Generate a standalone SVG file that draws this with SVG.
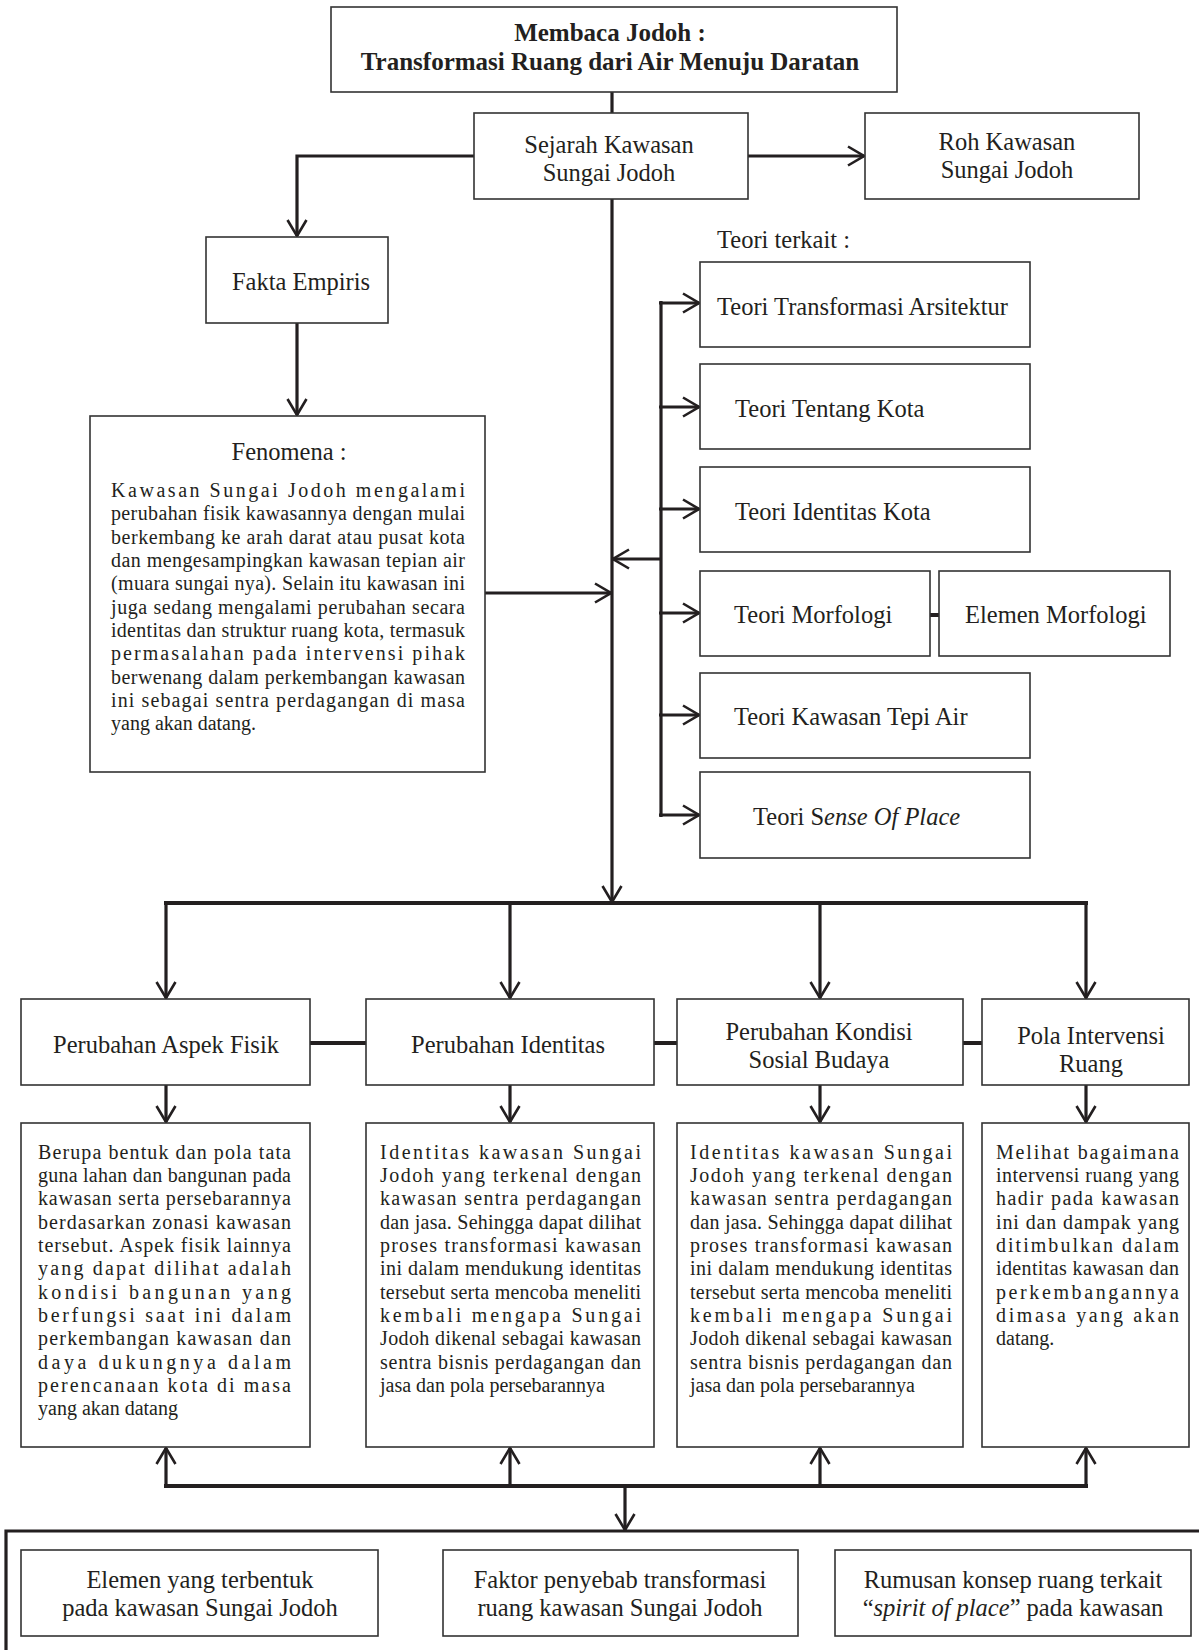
<svg xmlns="http://www.w3.org/2000/svg" width="1199" height="1650" viewBox="0 0 1199 1650">
<style>
.bx{fill:#fff;stroke:#333;stroke-width:1.6}
.t{font-family:"Liberation Serif","Times New Roman",serif;font-size:24.5px;fill:#231f20}
.tb{font-family:"Liberation Serif","Times New Roman",serif;font-size:25px;font-weight:bold;fill:#231f20}
.p{font-family:"Liberation Serif","Times New Roman",serif;font-size:20px;fill:#231f20}
.c{text-anchor:middle}
.ln{fill:none;stroke:#231f20;stroke-width:3.2}
.ar{fill:none;stroke:#231f20;stroke-width:3.2;marker-end:url(#ah)}
</style>
<defs>
<marker id="ah" markerUnits="userSpaceOnUse" viewBox="0 0 18 22" markerWidth="18" markerHeight="22" refX="17" refY="11" orient="auto">
<path d="M1,1.5 L17,11 L1,20.5" fill="none" stroke="#231f20" stroke-width="2.6"/>
</marker>
</defs>
<rect width="1199" height="1650" fill="#fff"/>

<g id="connectors">
<line class="ln" x1="612" y1="92" x2="612" y2="113"/>
<line class="ar" x1="748" y1="156" x2="864" y2="156"/>
<polyline class="ar" points="474,156 297,156 297,236"/>
<line class="ar" x1="297" y1="323" x2="297" y2="415"/>
<line class="ar" x1="612" y1="199" x2="612" y2="902"/>
<line class="ar" x1="485" y1="593" x2="611" y2="593"/>
<line class="ar" x1="661" y1="559" x2="613" y2="559"/>
<line class="ln" x1="661" y1="301" x2="661" y2="817"/>
<line class="ar" x1="659" y1="303" x2="699" y2="303"/>
<line class="ar" x1="659" y1="407" x2="699" y2="407"/>
<line class="ar" x1="659" y1="509" x2="699" y2="509"/>
<line class="ar" x1="659" y1="613" x2="699" y2="613"/>
<line class="ar" x1="659" y1="715" x2="699" y2="715"/>
<line class="ar" x1="659" y1="815" x2="699" y2="815"/>
<line class="ln" x1="930" y1="615" x2="939" y2="615" style="stroke-width:4"/>
<line class="ln" x1="164" y1="903" x2="1088" y2="903" style="stroke-width:4"/>
<line class="ar" x1="166" y1="903" x2="166" y2="998"/>
<line class="ar" x1="510" y1="903" x2="510" y2="998"/>
<line class="ar" x1="820" y1="903" x2="820" y2="998"/>
<line class="ar" x1="1086" y1="903" x2="1086" y2="998"/>
<line class="ln" x1="310" y1="1043" x2="366" y2="1043" style="stroke-width:4"/>
<line class="ln" x1="654" y1="1043" x2="677" y2="1043" style="stroke-width:4"/>
<line class="ln" x1="963" y1="1043" x2="982" y2="1043" style="stroke-width:4"/>
<line class="ar" x1="166" y1="1085" x2="166" y2="1122"/>
<line class="ar" x1="510" y1="1085" x2="510" y2="1122"/>
<line class="ar" x1="820" y1="1085" x2="820" y2="1122"/>
<line class="ar" x1="1086" y1="1085" x2="1086" y2="1122"/>
<line class="ln" x1="164" y1="1486" x2="1088" y2="1486" style="stroke-width:4"/>
<line class="ar" x1="166" y1="1486" x2="166" y2="1448"/>
<line class="ar" x1="510" y1="1486" x2="510" y2="1448"/>
<line class="ar" x1="820" y1="1486" x2="820" y2="1448"/>
<line class="ar" x1="1086" y1="1486" x2="1086" y2="1448"/>
<line class="ar" x1="625" y1="1486" x2="625" y2="1530"/>
<polyline class="ln" points="6,1650 6,1531 1199,1531"/>
</g>

<g id="title">
<rect class="bx" x="331" y="7" width="566" height="85"/>
<text class="tb c" x="610" y="41">Membaca Jodoh :</text>
<text class="tb c" x="610" y="70">Transformasi Ruang dari Air Menuju Daratan</text>
</g>
<g id="sejarah">
<rect class="bx" x="474" y="113" width="274" height="86"/>
<text class="t c" x="609" y="153">Sejarah Kawasan</text>
<text class="t c" x="609" y="181">Sungai Jodoh</text>
</g>
<g id="roh">
<rect class="bx" x="865" y="113" width="274" height="86"/>
<text class="t c" x="1007" y="150">Roh Kawasan</text>
<text class="t c" x="1007" y="178">Sungai Jodoh</text>
</g>
<g id="fakta">
<rect class="bx" x="206" y="237" width="182" height="86"/>
<text class="t c" x="301" y="290">Fakta Empiris</text>
</g>
<g id="fenomena">
<rect class="bx" x="90" y="416" width="395" height="356"/>
<text class="t c" x="289" y="460">Fenomena :</text>
<text class="p" x="111" y="497" textLength="354" lengthAdjust="spacing">Kawasan Sungai Jodoh mengalami</text>
<text class="p" x="111" y="520" textLength="354" lengthAdjust="spacing">perubahan fisik kawasannya dengan mulai</text>
<text class="p" x="111" y="544" textLength="354" lengthAdjust="spacing">berkembang ke arah darat atau pusat kota</text>
<text class="p" x="111" y="567" textLength="354" lengthAdjust="spacing">dan mengesampingkan kawasan tepian air</text>
<text class="p" x="111" y="590" textLength="354" lengthAdjust="spacing">(muara sungai nya). Selain itu kawasan ini</text>
<text class="p" x="111" y="614" textLength="354" lengthAdjust="spacing">juga sedang mengalami perubahan secara</text>
<text class="p" x="111" y="637" textLength="354" lengthAdjust="spacing">identitas dan struktur ruang kota, termasuk</text>
<text class="p" x="111" y="660" textLength="354" lengthAdjust="spacing">permasalahan pada intervensi pihak</text>
<text class="p" x="111" y="684" textLength="354" lengthAdjust="spacing">berwenang dalam perkembangan kawasan</text>
<text class="p" x="111" y="707" textLength="354" lengthAdjust="spacing">ini sebagai sentra perdagangan di masa</text>
<text class="p" x="111" y="730">yang akan datang.</text>
</g>

<text class="t" x="717" y="248">Teori terkait :</text>
<g id="teori-transformasi">
<rect class="bx" x="700" y="262" width="330" height="85"/>
<text class="t" x="717" y="315">Teori Transformasi Arsitektur</text>
</g>
<g id="teori-kota">
<rect class="bx" x="700" y="364" width="330" height="85"/>
<text class="t" x="735" y="417">Teori Tentang Kota</text>
</g>
<g id="teori-identitas">
<rect class="bx" x="700" y="467" width="330" height="85"/>
<text class="t" x="735" y="520">Teori Identitas Kota</text>
</g>
<g id="teori-morfologi">
<rect class="bx" x="700" y="571" width="230" height="85"/>
<text class="t" x="734" y="623">Teori Morfologi</text>
</g>
<g id="elemen-morfologi">
<rect class="bx" x="939" y="571" width="231" height="85"/>
<text class="t" x="965" y="623">Elemen Morfologi</text>
</g>
<g id="teori-tepi-air">
<rect class="bx" x="700" y="673" width="330" height="85"/>
<text class="t" x="734" y="725">Teori Kawasan Tepi Air</text>
</g>
<g id="teori-sense">
<rect class="bx" x="700" y="772" width="330" height="86"/>
<text class="t" x="753" y="825">Teori S<tspan font-style="italic">ense Of Place</tspan></text>
</g>

<g id="aspek-fisik">
<rect class="bx" x="21" y="999" width="289" height="86"/>
<text class="t c" x="166" y="1053">Perubahan Aspek Fisik</text>
</g>
<g id="identitas">
<rect class="bx" x="366" y="999" width="288" height="86"/>
<text class="t c" x="508" y="1053">Perubahan Identitas</text>
</g>
<g id="sosial">
<rect class="bx" x="677" y="999" width="286" height="86"/>
<text class="t c" x="819" y="1040">Perubahan Kondisi</text>
<text class="t c" x="819" y="1068">Sosial Budaya</text>
</g>
<g id="pola">
<rect class="bx" x="982" y="999" width="207" height="86"/>
<text class="t c" x="1091" y="1044">Pola Intervensi</text>
<text class="t c" x="1091" y="1072">Ruang</text>
</g>

<g id="desc-fisik">
<rect class="bx" x="21" y="1123" width="289" height="324"/>
<text class="p" x="38" y="1159" textLength="253" lengthAdjust="spacing">Berupa bentuk dan pola tata</text>
<text class="p" x="38" y="1182" textLength="253" lengthAdjust="spacing">guna lahan dan bangunan pada</text>
<text class="p" x="38" y="1205" textLength="253" lengthAdjust="spacing">kawasan serta persebarannya</text>
<text class="p" x="38" y="1229" textLength="253" lengthAdjust="spacing">berdasarkan zonasi kawasan</text>
<text class="p" x="38" y="1252" textLength="253" lengthAdjust="spacing">tersebut. Aspek fisik lainnya</text>
<text class="p" x="38" y="1275" textLength="253" lengthAdjust="spacing">yang dapat dilihat adalah</text>
<text class="p" x="38" y="1299" textLength="253" lengthAdjust="spacing">kondisi bangunan yang</text>
<text class="p" x="38" y="1322" textLength="253" lengthAdjust="spacing">berfungsi saat ini dalam</text>
<text class="p" x="38" y="1345" textLength="253" lengthAdjust="spacing">perkembangan kawasan dan</text>
<text class="p" x="38" y="1369" textLength="253" lengthAdjust="spacing">daya dukungnya dalam</text>
<text class="p" x="38" y="1392" textLength="253" lengthAdjust="spacing">perencanaan kota di masa</text>
<text class="p" x="38" y="1415">yang akan datang</text>
</g>
<g id="desc-identitas">
<rect class="bx" x="366" y="1123" width="288" height="324"/>
<text class="p" x="380" y="1159" textLength="261" lengthAdjust="spacing">Identitas kawasan Sungai</text>
<text class="p" x="380" y="1182" textLength="261" lengthAdjust="spacing">Jodoh yang terkenal dengan</text>
<text class="p" x="380" y="1205" textLength="261" lengthAdjust="spacing">kawasan sentra perdagangan</text>
<text class="p" x="380" y="1229" textLength="261" lengthAdjust="spacing">dan jasa. Sehingga dapat dilihat</text>
<text class="p" x="380" y="1252" textLength="261" lengthAdjust="spacing">proses transformasi kawasan</text>
<text class="p" x="380" y="1275" textLength="261" lengthAdjust="spacing">ini dalam mendukung identitas</text>
<text class="p" x="380" y="1299" textLength="261" lengthAdjust="spacing">tersebut serta mencoba meneliti</text>
<text class="p" x="380" y="1322" textLength="261" lengthAdjust="spacing">kembali mengapa Sungai</text>
<text class="p" x="380" y="1345" textLength="261" lengthAdjust="spacing">Jodoh dikenal sebagai kawasan</text>
<text class="p" x="380" y="1369" textLength="261" lengthAdjust="spacing">sentra bisnis perdagangan dan</text>
<text class="p" x="380" y="1392">jasa dan pola persebarannya</text>
</g>
<g id="desc-sosial">
<rect class="bx" x="677" y="1123" width="286" height="324"/>
<text class="p" x="690" y="1159" textLength="262" lengthAdjust="spacing">Identitas kawasan Sungai</text>
<text class="p" x="690" y="1182" textLength="262" lengthAdjust="spacing">Jodoh yang terkenal dengan</text>
<text class="p" x="690" y="1205" textLength="262" lengthAdjust="spacing">kawasan sentra perdagangan</text>
<text class="p" x="690" y="1229" textLength="262" lengthAdjust="spacing">dan jasa. Sehingga dapat dilihat</text>
<text class="p" x="690" y="1252" textLength="262" lengthAdjust="spacing">proses transformasi kawasan</text>
<text class="p" x="690" y="1275" textLength="262" lengthAdjust="spacing">ini dalam mendukung identitas</text>
<text class="p" x="690" y="1299" textLength="262" lengthAdjust="spacing">tersebut serta mencoba meneliti</text>
<text class="p" x="690" y="1322" textLength="262" lengthAdjust="spacing">kembali mengapa Sungai</text>
<text class="p" x="690" y="1345" textLength="262" lengthAdjust="spacing">Jodoh dikenal sebagai kawasan</text>
<text class="p" x="690" y="1369" textLength="262" lengthAdjust="spacing">sentra bisnis perdagangan dan</text>
<text class="p" x="690" y="1392">jasa dan pola persebarannya</text>
</g>
<g id="desc-pola">
<rect class="bx" x="982" y="1123" width="207" height="324"/>
<text class="p" x="996" y="1159" textLength="183" lengthAdjust="spacing">Melihat bagaimana</text>
<text class="p" x="996" y="1182" textLength="183" lengthAdjust="spacing">intervensi ruang yang</text>
<text class="p" x="996" y="1205" textLength="183" lengthAdjust="spacing">hadir pada kawasan</text>
<text class="p" x="996" y="1229" textLength="183" lengthAdjust="spacing">ini dan dampak yang</text>
<text class="p" x="996" y="1252" textLength="183" lengthAdjust="spacing">ditimbulkan dalam</text>
<text class="p" x="996" y="1275" textLength="183" lengthAdjust="spacing">identitas kawasan dan</text>
<text class="p" x="996" y="1299" textLength="183" lengthAdjust="spacing">perkembangannya</text>
<text class="p" x="996" y="1322" textLength="183" lengthAdjust="spacing">dimasa yang akan</text>
<text class="p" x="996" y="1345">datang.</text>
</g>

<g id="elemen">
<rect class="bx" x="21" y="1550" width="357" height="86"/>
<text class="t c" x="200" y="1588">Elemen yang terbentuk</text>
<text class="t c" x="200" y="1616">pada kawasan Sungai Jodoh</text>
</g>
<g id="faktor">
<rect class="bx" x="443" y="1550" width="355" height="86"/>
<text class="t c" x="620" y="1588">Faktor penyebab transformasi</text>
<text class="t c" x="620" y="1616">ruang kawasan Sungai Jodoh</text>
</g>
<g id="rumusan">
<rect class="bx" x="835" y="1550" width="356" height="86"/>
<text class="t c" x="1013" y="1588">Rumusan konsep ruang terkait</text>
<text class="t c" x="1013" y="1616">“<tspan font-style="italic">spirit of place</tspan>” pada kawasan</text>
</g>
</svg>
